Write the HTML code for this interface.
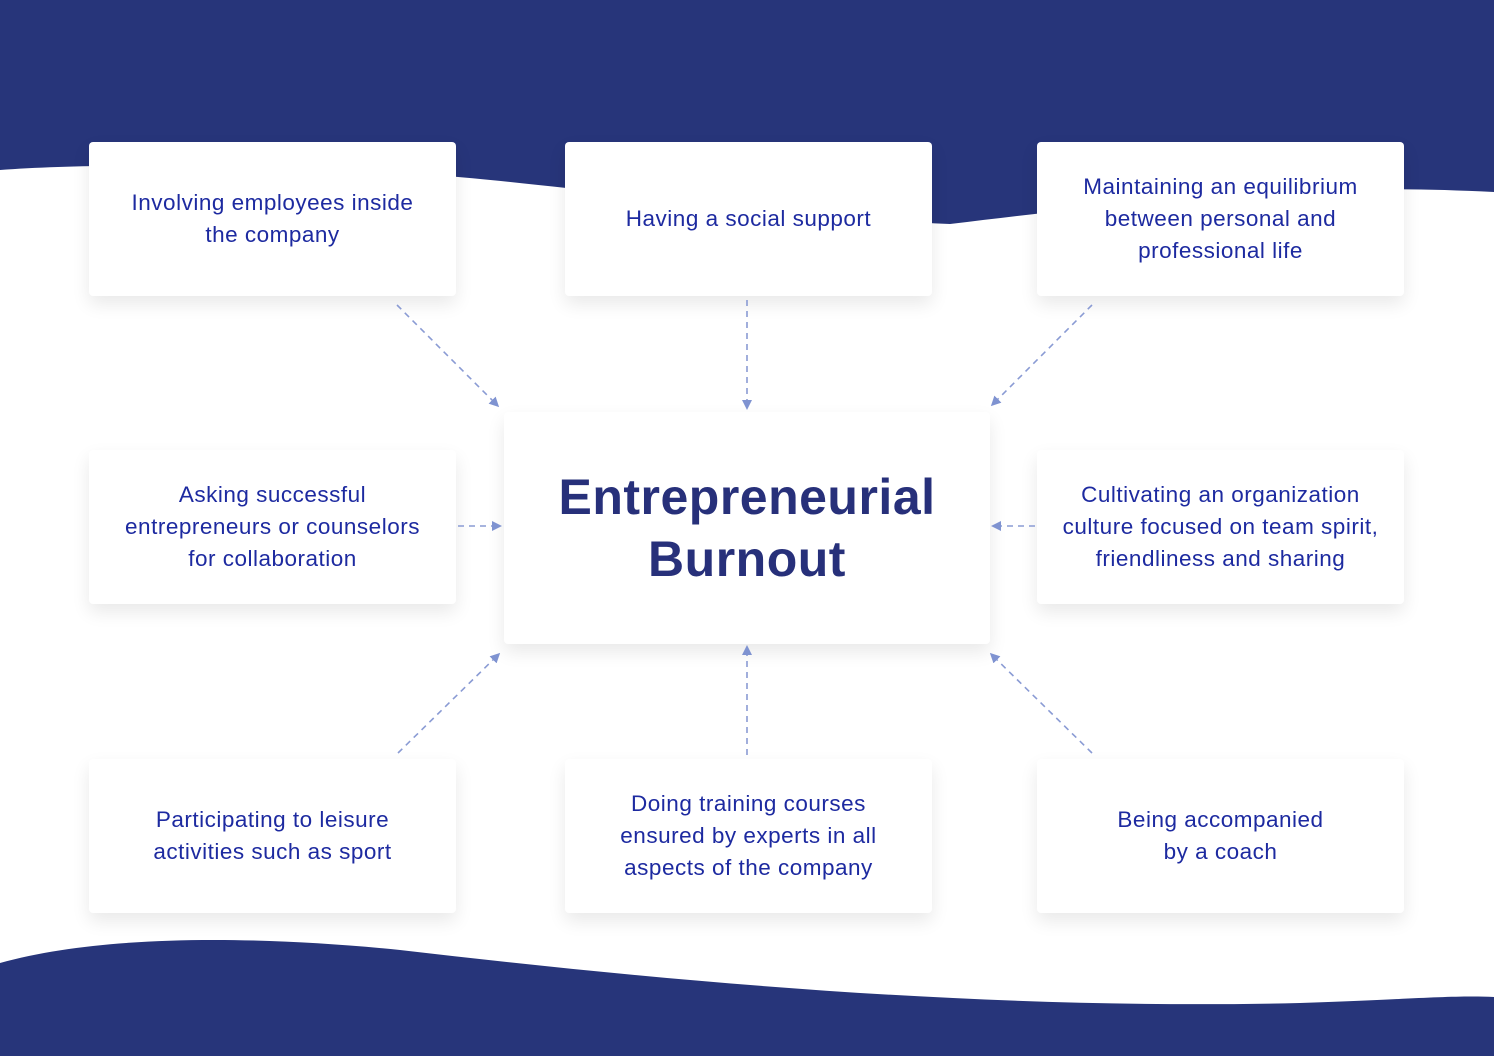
<!DOCTYPE html>
<html><head><style>
body{margin:0;width:1494px;height:1056px;position:relative;overflow:hidden;background:#fff;font-family:"Liberation Sans",sans-serif}
svg.bg{position:absolute;left:0;top:0}
.c{position:absolute;background:#fff;border-radius:4px;box-shadow:0 8px 18px rgba(0,0,0,0.09);display:flex;align-items:center;justify-content:center;text-align:center;color:#1d2aa0;font-size:22.5px;line-height:32px;letter-spacing:0.5px}
.t{font-size:50px;line-height:62px;font-weight:bold;color:#27307a;letter-spacing:0.5px}
</style></head><body>
<svg class="bg" width="1494" height="1056">
<path d="M0,0 H1494 V192 C1300,182 1150,200 950,224 C750,215 500,175 380,172 C200,164 80,164 0,170 Z" fill="#27357a"/>
<path d="M0,963 C100,935 250,935 400,950 C700,985 1000,1010 1300,1003 C1400,1000 1450,995 1494,997 V1056 H0 Z" fill="#27357a"/>
</svg>
<div class="c" style="left:89px;top:142px;width:367px;height:154px">Involving employees inside<br>the company</div>
<div class="c" style="left:565px;top:142px;width:367px;height:154px">Having a social support</div>
<div class="c" style="left:1037px;top:142px;width:367px;height:154px">Maintaining an equilibrium<br>between personal and<br>professional life</div>
<div class="c" style="left:89px;top:450px;width:367px;height:154px">Asking successful<br>entrepreneurs or counselors<br>for collaboration</div>
<div class="c t" style="left:504px;top:412px;width:486px;height:232px">Entrepreneurial<br>Burnout</div>
<div class="c" style="left:1037px;top:450px;width:367px;height:154px">Cultivating an organization<br>culture focused on team spirit,<br>friendliness and sharing</div>
<div class="c" style="left:89px;top:759px;width:367px;height:154px">Participating to leisure<br>activities such as sport</div>
<div class="c" style="left:565px;top:759px;width:367px;height:154px">Doing training courses<br>ensured by experts in all<br>aspects of the company</div>
<div class="c" style="left:1037px;top:759px;width:367px;height:154px">Being accompanied<br>by a coach</div>
<svg class="bg" width="1494" height="1056">
<defs><marker id="a" markerWidth="10" markerHeight="10" refX="7" refY="5" orient="auto" markerUnits="userSpaceOnUse"><path d="M0,0 L10,5 L0,10 Z" fill="#7f93d1"/></marker></defs>
<g stroke="#8a9bd4" stroke-width="1.6" stroke-dasharray="6,5" fill="none" marker-end="url(#a)">
<line x1="397" y1="305" x2="497" y2="405"/>
<line x1="747" y1="300" x2="747" y2="407"/>
<line x1="1092" y1="305" x2="993" y2="404"/>
<line x1="458" y1="526" x2="499" y2="526"/>
<line x1="1035" y1="526" x2="994" y2="526"/>
<line x1="398" y1="753" x2="498" y2="655"/>
<line x1="747" y1="755" x2="747" y2="648"/>
<line x1="1092" y1="753" x2="992" y2="655"/>
</g></svg>
</body></html>
